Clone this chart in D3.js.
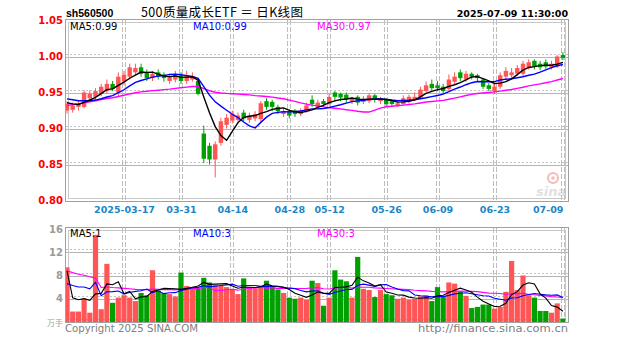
<!DOCTYPE html>
<html><head><meta charset="utf-8">
<script src="https://cdn.jsdelivr.net/npm/d3@7"></script>
<style>body{margin:0;background:#fff}svg{display:block}</style>
</head><body><svg id="c" width="627" height="342"></svg>
<script>
// ---------------- data ----------------
const dates = [
"2025-03-03","2025-03-04","2025-03-05","2025-03-06","2025-03-07","2025-03-10","2025-03-11","2025-03-12","2025-03-13","2025-03-14",
"2025-03-17","2025-03-18","2025-03-19","2025-03-20","2025-03-21","2025-03-24","2025-03-25","2025-03-26","2025-03-27","2025-03-28",
"2025-03-31","2025-04-01","2025-04-02","2025-04-03","2025-04-07","2025-04-08","2025-04-09","2025-04-10","2025-04-11","2025-04-14",
"2025-04-15","2025-04-16","2025-04-17","2025-04-18","2025-04-21","2025-04-22","2025-04-23","2025-04-24","2025-04-25","2025-04-28",
"2025-04-29","2025-04-30","2025-05-06","2025-05-07","2025-05-08","2025-05-09","2025-05-12","2025-05-13","2025-05-14","2025-05-15",
"2025-05-16","2025-05-19","2025-05-20","2025-05-21","2025-05-22","2025-05-23","2025-05-26","2025-05-27","2025-05-28","2025-05-29",
"2025-05-30","2025-06-03","2025-06-04","2025-06-05","2025-06-06","2025-06-09","2025-06-10","2025-06-11","2025-06-12","2025-06-13",
"2025-06-16","2025-06-17","2025-06-18","2025-06-19","2025-06-20","2025-06-23","2025-06-24","2025-06-25","2025-06-26","2025-06-27",
"2025-06-30","2025-07-01","2025-07-02","2025-07-03","2025-07-04","2025-07-07","2025-07-08","2025-07-09"];
const opens = [
.925,.926,.930,.930,.942,.944,.948,.952,.962,.950, .965,.972,.978,.985,.978,.970,.978,.975,.966,.968,
.974,.966,.968,.966,.893,.876,.857,.880,.905,.911, .912,.922,.912,.914,.913,.938,.937,.930,.920,.924,
.925,.920,.924,.940,.930,.938,.934,.950,.948,.947, .938,.944,.937,.938,.946,.938,.940,.938,.932,.934,
.938,.940,.943,.952,.962,.960,.958,.955,.965,.978, .968,.976,.974,.968,.960,.952,.958,.972,.974,.976,
.976,.985,.994,.990,.992,.985,.986,1.002];
const highs = [
.938,.936,.938,.953,.953,.956,.962,.968,.966,.978, .980,.990,.990,.990,.982,.980,.982,.978,.976,.980,
.978,.980,.978,.970,.904,.880,.882,.915,.920,.925, .922,.926,.922,.924,.938,.942,.940,.933,.928,.927,
.927,.928,.936,.946,.940,.941,.948,.952,.950,.950, .944,.946,.945,.949,.948,.944,.942,.940,.938,.946,
.947,.950,.958,.965,.968,.966,.962,.975,.978,.982, .980,.978,.976,.970,.963,.962,.978,.985,.984,.988,
.994,.996,.996,.994,.996,.994,1.002,1.006];
const lows = [
.921,.922,.925,.928,.938,.940,.945,.948,.952,.945, .960,.968,.974,.972,.966,.966,.968,.965,.962,.964,
.962,.962,.965,.946,.852,.850,.832,.876,.900,.907, .908,.910,.908,.910,.910,.926,.924,.920,.916,.914,
.916,.917,.922,.930,.927,.930,.932,.938,.938,.936, .934,.932,.934,.935,.936,.934,.930,.930,.930,.932,
.935,.938,.941,.950,.953,.952,.948,.952,.962,.966, .965,.968,.966,.955,.952,.948,.955,.968,.970,.973,
.972,.982,.982,.981,.983,.982,.984,.995];
const closes = [
.934,.932,.934,.950,.948,.952,.958,.962,.955,.972, .975,.985,.984,.976,.970,.976,.972,.970,.972,.975,
.966,.974,.972,.948,.858,.857,.878,.910,.915,.920, .918,.914,.918,.920,.935,.930,.930,.924,.924,.918,
.920,.925,.932,.934,.936,.934,.944,.944,.943,.940, .941,.936,.941,.946,.940,.940,.934,.934,.935,.942,
.944,.944,.954,.960,.956,.956,.952,.968,.972,.970, .976,.972,.970,.958,.955,.958,.974,.980,.978,.984,
.990,.992,.986,.985,.986,.990,1.000,.998];
const volumes = [
9.4,1.8,1.8,4.0,1.6,15.0,2.2,10.0,3.3,4.2, 4.6,4.2,3.6,5.0,4.6,8.9,5.4,5.0,4.8,4.4,
8.5,6.2,6.0,5.8,7.6,6.8,6.4,6.2,6.0,5.6, 4.8,7.5,6.0,5.8,6.2,7.1,6.0,5.6,5.0,4.2,
4.0,4.2,3.8,7.1,6.7,2.8,4.2,8.9,7.3,7.0, 4.2,11.2,5.7,5.5,4.3,5.5,4.8,4.6,4.0,4.2,
3.8,4.0,4.4,4.6,3.6,6.0,4.4,6.8,6.6,5.3, 4.5,2.4,2.6,3.0,3.0,2.3,2.6,5.2,10.5,5.5,
8.0,4.6,4.2,1.9,1.9,1.6,3.2,0.6];
// 29 sessions before the window (only used to warm up the moving averages)
const priorCloses = [
.895,.900,.905,.905,.910,.915,.915,.920,.920,.925,
.930,.935,.940,.945,.950,.952,.948,.950,.945,.940,
.945,.948,.950,.947,.943,.940,.938,.935,.932];
const priorVolumes = [
11,10,9,10,22,50,8,6,6,7,
6,7,6,5,6,7,6,5,6,5,
5,4.5,4,4.5,4,25,3.5,3,3.1];
const priceTicks = [0.80,0.85,0.90,0.95,1.00,1.05];
const priceTickLabels = ["0.80","0.85","0.90","0.95","1.00","1.05"];
const volTicks = [4,8,12,16];
const volTickLabels = ["4","8","12","16"];
const dateTicks = ["2025-03-17","2025-03-31","2025-04-14","2025-04-28","2025-05-12","2025-05-26","2025-06-09","2025-06-23","2025-07-09"];
const dateTickLabels = ["2025-03-17","03-31","04-14","04-28","05-12","05-26","06-09","06-23","07-09"];
const titleCode = "sh560500";
const titleName = "500质量成长ETF ＝ 日K线图";
const timeStamp = "2025-07-09 11:30:00";
const maLegend = ["MA5:0.99","MA10:0.99","MA30:0.97"];
const volLegend = ["MA5:1","MA10:3","MA30:3"];

// ---------------- helpers ----------------
function movingAvg(prior, vals, n){
  const all = prior.concat(vals), off = prior.length;
  return vals.map((_,i)=> d3.mean(all.slice(off+i-n+1, off+i+1)));
}
const RED="#ff5555", GREEN="#00a000";
const svg = d3.select("#c");
const L=66, R=568, PT=20, PB=201, VT=228, VB=322;

const x = d3.scalePoint().domain(dates).range([67, 562.9]);
const y = d3.scaleLinear().domain([0.80,1.05]).range([200.5,20.5]);
const yv = d3.scaleLinear().domain([0,16]).range([322,229]);

const data = dates.map((d,i)=>({d,o:opens[i],h:highs[i],l:lows[i],c:closes[i],v:volumes[i],up:closes[i]>=opens[i]}));

// ---------------- grids & frames ----------------
function hgrid(scale, ticks){
  const g = svg.append("g");
  ticks.forEach(t=>{
    const yy = Math.round(scale(t))+0.5;
    g.append("line").attr("x1",L).attr("x2",R).attr("y1",yy).attr("y2",yy).attr("stroke","#b4b4b4");
    g.append("line").attr("x1",L).attr("x2",R).attr("y1",yy-3).attr("y2",yy-3).attr("stroke","#c4c4c4").attr("stroke-dasharray","2,2");
  });
}
function vgrid(top,bot){
  const g = svg.append("g");
  dateTicks.forEach(t=>{
    const xx = Math.round(x(t));
    [-1.5,1.5].forEach(o=>g.append("line").attr("x1",xx+o).attr("x2",xx+o).attr("y1",top).attr("y2",bot)
      .attr("stroke","#bdbdbd").attr("stroke-dasharray","5,2"));
  });
}
hgrid(y,[0.85,0.90,0.95,1.00]);
vgrid(PT,PB);
hgrid(yv,[4,8,12]);
vgrid(VT,VB);
function frame(t,b){
  svg.append("rect").attr("x",L-0.5).attr("y",t-0.5).attr("width",R-L+1).attr("height",b-t+1).attr("fill","none").attr("stroke","#a0a0a0");
  svg.append("rect").attr("x",L+2.5).attr("y",t+2.5).attr("width",R-L-5).attr("height",b-t-5).attr("fill","none").attr("stroke","#c8c8c8");
}
frame(PT,PB); frame(VT,VB);

// watermark
const wm = svg.append("g").attr("opacity",0.55);
wm.append("circle").attr("cx",553).attr("cy",178).attr("r",5).attr("fill","none").attr("stroke","#f08080").attr("stroke-width",2);
wm.append("circle").attr("cx",553).attr("cy",178).attr("r",1.8).attr("fill","#f08080");
wm.append("text").attr("x",536).attr("y",196).attr("font-family","DejaVu Sans").attr("font-weight","bold").attr("font-style","italic")
  .attr("font-size",13).attr("fill","#c8c8c8").text("sina");

// ---------------- candles ----------------
const clipP = svg.append("clipPath").attr("id","cp").append("rect").attr("x",L).attr("y",PT).attr("width",R-L).attr("height",PB-PT);
const clipV = svg.append("clipPath").attr("id","cv").append("rect").attr("x",L).attr("y",VT).attr("width",R-L).attr("height",VB-VT);
const cg = svg.append("g").attr("clip-path","url(#cp)");
const bw = 4.4;
cg.selectAll(".wick").data(data).join("line")
  .attr("x1",d=>x(d.d)).attr("x2",d=>x(d.d)).attr("y1",d=>y(d.h)).attr("y2",d=>y(d.l))
  .attr("stroke",d=>d.up?RED:GREEN).attr("stroke-width",1);
cg.selectAll(".body").data(data).join("rect")
  .attr("x",d=>x(d.d)-bw/2).attr("width",bw)
  .attr("y",d=>y(Math.max(d.o,d.c))).attr("height",d=>Math.max(1,Math.abs(y(d.o)-y(d.c))))
  .attr("fill",d=>d.up?RED:GREEN);

const ma5 = movingAvg(priorCloses,closes,5), ma10 = movingAvg(priorCloses,closes,10), ma30 = movingAvg(priorCloses,closes,30);
const lineP = d3.line().x((d,i)=>x(dates[i])).y(d=>y(d));
[[ma30,"#ff00ff"],[ma10,"#0000ff"],[ma5,"#000000"]].forEach(([s,col])=>{
  cg.append("path").attr("d",lineP(s)).attr("fill","none").attr("stroke",col).attr("stroke-width",1.4);
});

// ---------------- volume ----------------
const vg = svg.append("g").attr("clip-path","url(#cv)");
vg.selectAll(".vb").data(data).join("rect")
  .attr("x",d=>x(d.d)-2.6).attr("width",5.2)
  .attr("y",d=>yv(d.v)).attr("height",d=>yv(0)-yv(d.v))
  .attr("fill",d=>d.up?RED:GREEN);
const vma5 = movingAvg(priorVolumes,volumes,5), vma10 = movingAvg(priorVolumes,volumes,10), vma30 = movingAvg(priorVolumes,volumes,30);
const lineV = d3.line().x((d,i)=>x(dates[i])).y(d=>yv(d));
[[vma30,"#ff00ff"],[vma10,"#0000ff"],[vma5,"#000000"]].forEach(([s,col])=>{
  vg.append("path").attr("d",lineV(s)).attr("fill","none").attr("stroke",col).attr("stroke-width",1.1);
});

// ---------------- axes ----------------
const ya = svg.append("g").attr("transform",`translate(${L},0)`)
  .call(d3.axisLeft(y).tickValues(priceTicks).tickFormat((d,i)=>priceTickLabels[i]).tickSize(0).tickPadding(3));
ya.select(".domain").remove();
ya.selectAll("text").attr("font-family","DejaVu Sans").attr("font-weight","bold").attr("font-size",10).attr("fill","#ff0000");

const yva = svg.append("g").attr("transform",`translate(${L},0)`)
  .call(d3.axisLeft(yv).tickValues(volTicks).tickFormat((d,i)=>volTickLabels[i]).tickSize(0).tickPadding(3));
yva.select(".domain").remove();
yva.selectAll("text").attr("font-family","DejaVu Sans").attr("font-weight","bold").attr("font-size",10).attr("fill","#9a9a9a");
svg.append("text").attr("x",63).attr("y",325.5).attr("text-anchor","end").attr("font-family","Noto Sans CJK SC")
  .attr("font-size",8).attr("fill","#a0a0a0").text("万手");

const xa = svg.append("g").attr("transform",`translate(0,${PB})`)
  .call(d3.axisBottom(x).tickValues(dateTicks).tickFormat((d,i)=>dateTickLabels[i]).tickSize(0).tickPadding(5));
xa.select(".domain").remove();
xa.selectAll("text").attr("font-family","DejaVu Sans").attr("font-weight","bold").attr("font-size",9.5).attr("fill","#1a86c8")
  .attr("text-anchor",(d,i)=> i===dateTicks.length-1 ? "end":"middle");

// ---------------- texts ----------------
svg.append("text").attr("x",66).attr("y",16.5).attr("font-family","Liberation Sans").attr("font-weight","bold")
  .attr("font-size",10.5).attr("fill","#000").text(titleCode);
svg.append("text").attr("x",141).attr("y",17).attr("font-family","Noto Sans CJK SC").attr("font-size",12.5)
  .attr("fill","#000").attr("textLength",162).attr("lengthAdjust","spacing").text(titleName);
svg.append("text").attr("x",568).attr("y",16.5).attr("text-anchor","end").attr("font-family","DejaVu Sans").attr("font-weight","bold")
  .attr("font-size",9.5).attr("fill","#000").text(timeStamp);

const legX=[70,193,317], legC=["#000000","#0000ff","#ff00ff"];
maLegend.forEach((t,i)=>svg.append("text").attr("x",legX[i]).attr("y",30).attr("font-family","DejaVu Sans")
  .attr("font-size",10).attr("fill",legC[i]).text(t));
volLegend.forEach((t,i)=>svg.append("text").attr("x",legX[i]).attr("y",237).attr("font-family","DejaVu Sans")
  .attr("font-size",10).attr("fill",legC[i]).text(t));

svg.append("text").attr("x",65).attr("y",332).attr("font-family","DejaVu Sans").attr("font-size",10)
  .attr("fill","#808080").attr("textLength",133).attr("lengthAdjust","spacingAndGlyphs").text("Copyright 2025 SINA.COM");
svg.append("text").attr("x",568).attr("y",332).attr("text-anchor","end").attr("font-family","DejaVu Sans").attr("font-size",10)
  .attr("fill","#808080").attr("textLength",150).attr("lengthAdjust","spacingAndGlyphs").text("http://finance.sina.com.cn");
</script></body></html>
